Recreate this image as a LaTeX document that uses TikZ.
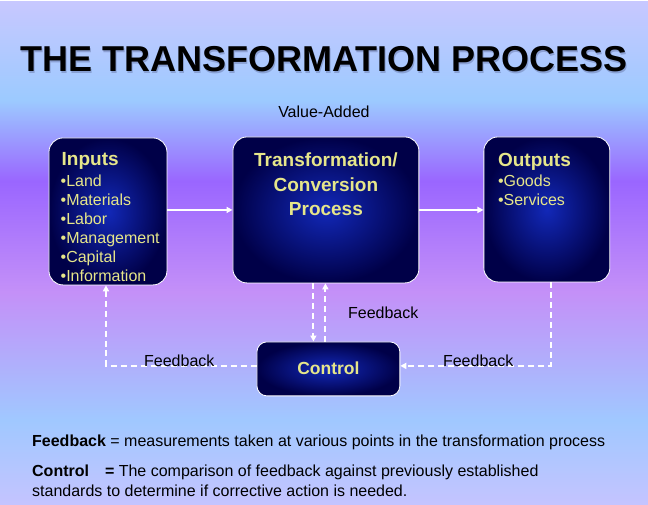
\documentclass[tikz,border=0pt]{standalone}
\usepackage{fontspec}
\setmainfont{Liberation Sans}
\usetikzlibrary{arrows.meta,calc}
\definecolor{bgA}{HTML}{C8C8FF}
\definecolor{bgB}{HTML}{9CCAFF}
\definecolor{bgC}{HTML}{9A66FF}
\definecolor{bgD}{HTML}{C490F8}
\definecolor{bgE}{HTML}{A0C8FF}
\definecolor{bgF}{HTML}{C4C4FF}
\definecolor{boxin}{HTML}{1228B8}
\definecolor{boxout}{HTML}{000048}
\definecolor{boxtext}{HTML}{E6E68A}
\definecolor{shadowc}{HTML}{6070A0}
\pgfdeclareverticalshading{bgshade}{648pt}{color(0pt)=(bgF); color(84pt)=(bgE); color(212pt)=(bgD); color(323pt)=(bgC); color(404pt)=(bgB); color(504pt)=(bgA)}
\begin{document}
\begin{tikzpicture}[x=1pt,y=-1pt,
  box/.style={draw=white, line width=0.8pt, rounded corners=14pt, inner color=boxin, outer color=boxout, inner sep=0},
  boxtxt/.style={text=boxtext, inner sep=0},
  hdr/.style={boxtxt, font=\bfseries\fontsize{19}{24.5}\selectfont},
  item/.style={boxtxt, align=left, font=\fontsize{16}{19}\selectfont},
  lbl/.style={font=\fontsize{16}{19}\selectfont, inner sep=0, text=black},
  arr/.style={draw=white, line width=2pt, -{Triangle[length=6pt,width=6pt]}},
  darr/.style={draw=white, line width=2pt, dash pattern=on 6pt off 4pt, -{Triangle[length=6pt,width=6pt]}}]
\node[anchor=north west, inner sep=0] (bg) at (0,0) {\pgfuseshading{bgshade}};
\useasboundingbox (0,0) rectangle (648,504);

% title
\node[anchor=base, inner sep=0, text=shadowc, opacity=0.45, font=\bfseries\fontsize{36}{36}\selectfont] (titleshadow) at (325.3,73.3) {THE TRANSFORMATION PROCESS};
\node[anchor=base, inner sep=0, text=black, font=\bfseries\fontsize{36}{36}\selectfont] (title) at (324,72) {THE TRANSFORMATION PROCESS};
\node[lbl, anchor=base] (va) at (324,118) {Value-Added};

% boxes
\node[box, minimum width=118pt, minimum height=147pt] (inputs) at (108,211.5) {};
\node[box, minimum width=186pt, minimum height=146pt] (trans) at (326,210) {};
\node[box, minimum width=126pt, minimum height=145pt] (outputs) at (547,209.5) {};
\node[box, rounded corners=10pt, minimum width=143pt, minimum height=54pt] (control) at (328.5,369) {};

% box texts (base anchor of a multi-line node = baseline of its last line)
\node[hdr, anchor=base west] (inputsh) at (61.5,166) {Inputs};
\node[item, anchor=base west] (inputsl) at (60.5,282) {•Land\\•Materials\\•Labor\\•Management\\•Capital\\•Information};
\node[hdr, anchor=base, align=center] (transt) at (326,216) {Transformation/\\Conversion\\Process};
\node[hdr, anchor=base west] (outputsh) at (498,167) {Outputs};
\node[item, anchor=base west] (outputsl) at (498,206) {•Goods\\•Services};
\node[boxtxt, anchor=base, font=\bfseries\fontsize{17.5}{20}\selectfont] (controlt) at (328.5,375) {Control};

% solid arrows
\draw[arr] (inputs.east |- trans.west) -- (trans.west);
\draw[arr] (trans.east) -- (trans.east -| outputs.west);

% dashed feedback connectors
\coordinate (cl) at ([yshift=3]control.west);
\coordinate (cr) at ([yshift=3]control.east);
\coordinate (ib) at ([xshift=-2]inputs.south);
\coordinate (ob) at ([xshift=4]outputs.south);
\draw[darr] (cl) -| (ib);
\draw[darr] (ob) |- (cr);
\draw[darr] ([xshift=-12.5]trans.south) -- ([xshift=-12.5]trans.south |- control.north);
\draw[darr] ([xshift=-0.5]trans.south |- control.north) -- ([xshift=-0.5]trans.south);

% labels
\node[lbl, anchor=base west] (fbm) at (348,319) {Feedback};
\node[lbl, anchor=base west] (fbl) at (144,367) {Feedback};
\node[lbl, anchor=base west] (fbr) at (443,367) {Feedback};

% definitions
\node[lbl, anchor=base west] (def1) at (32,447) {\textbf{Feedback} = measurements taken at various points in the transformation process};
\node[lbl, anchor=base west] (def2) at (32,477) {\textbf{Control}\hspace{16pt}\textbf{=} The comparison of feedback against previously established};
\node[lbl, anchor=base west] (def3) at (32,497) {standards to determine if corrective action is needed.};
\end{tikzpicture}
\end{document}
